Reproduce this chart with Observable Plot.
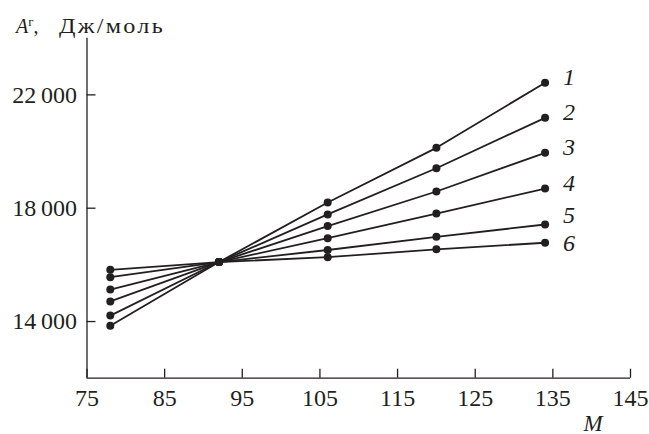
<!DOCTYPE html>
<html><head><meta charset="utf-8">
<script src="https://cdn.jsdelivr.net/npm/d3@7"></script>
<script src="https://cdn.jsdelivr.net/npm/@observablehq/plot@0.6"></script>
<style>html,body{margin:0;padding:0;background:#fff} svg{display:block}</style>
</head><body><div id="chart"></div>
<script>
// ---- data ----
const M = [78, 92, 106, 120, 134];
const seriesNames = ["1", "2", "3", "4", "5", "6"];
const s1 = [13850, 16100, 18200, 20130, 22430];
const s2 = [14210, 16100, 17780, 19410, 21190];
const s3 = [14710, 16100, 17370, 18590, 19955];
const s4 = [15130, 16100, 16940, 17810, 18695];
const s5 = [15565, 16100, 16525, 16990, 17425];
const s6 = [15826, 16100, 16270, 16550, 16780];
const xTicks = [75, 85, 95, 105, 115, 125, 135, 145];
const yTicks = [14000, 18000, 22000];
const yTitleMain = "A";
const yTitleSup = "г";
const yTitleComma = ",";
const yTitleUnit = "Дж/моль";
const xTitle = "M";

const values = [s1, s2, s3, s4, s5, s6];
const rows = seriesNames.flatMap((s, i) => M.map((m, j) => ({series: s, M: m, A: values[i][j]})));
const last = rows.filter(d => d.M === M[M.length - 1]);
const ink = "#231f20";
const serif = "'Liberation Serif','Times New Roman',serif";
const fmtY = d => d3.format(",")(d).replace(",", "\u2009");
const labelStyle = {x: "M", y: "A", text: "series", dx: 18, textAnchor: "start", lineAnchor: "middle", fontStyle: "italic", fontSize: 24, fill: ink};

const plot = Plot.plot({
  width: 649, height: 434,
  marginLeft: 86.5, marginRight: 19, marginTop: 37.7, marginBottom: 56.3,
  style: {fontFamily: serif, fontSize: "24px", color: ink, background: "#fff"},
  x: {domain: [75, 145]},
  y: {domain: [12000, 24000]},
  marks: [
    Plot.axisX({ticks: xTicks, tickSize: -9, tickPadding: 20, tickFormat: d => String(d), label: null, fontSize: 24, strokeWidth: 1.3}),
    Plot.axisY({ticks: yTicks, tickSize: -9, tickPadding: 19, tickFormat: fmtY, label: null, fontSize: 24, strokeWidth: 1.3}),
    Plot.ruleX([75], {stroke: ink, strokeWidth: 1.3}),
    Plot.ruleY([12000], {stroke: ink, strokeWidth: 1.3}),
    Plot.line(rows, {x: "M", y: "A", z: "series", stroke: ink, strokeWidth: 1.8}),
    Plot.dot(rows, {x: "M", y: "A", r: 4, fill: ink}),
    Plot.text(last.filter(d => +d.series <= 4), {...labelStyle, dy: -5.5}),
    Plot.text(last.filter(d => d.series === "5"), {...labelStyle, dy: -9}),
    Plot.text(last.filter(d => d.series === "6"), {...labelStyle, dy: 1}),
    Plot.text([xTitle], {frameAnchor: "bottom-right", text: d => d, dx: -37.5, dy: 45, textAnchor: "middle", lineAnchor: "middle", fontStyle: "italic", fontSize: 23, fill: ink})
  ]
});

const t = d3.select(plot).append("text")
  .attr("x", 16).attr("y", 33).attr("text-anchor", "start")
  .attr("font-family", serif).attr("font-size", 20).attr("fill", ink);
t.append("tspan").attr("font-style", "italic").text(yTitleMain);
t.append("tspan").attr("font-size", 13).attr("dy", -7).text(yTitleSup);
t.append("tspan").attr("dy", 7).text(yTitleComma);
t.append("tspan").attr("x", 59).attr("font-size", 21).attr("letter-spacing", 2)
  .attr("textLength", 106).attr("lengthAdjust", "spacingAndGlyphs").text(yTitleUnit);

document.getElementById("chart").appendChild(plot);
</script>
</body></html>
